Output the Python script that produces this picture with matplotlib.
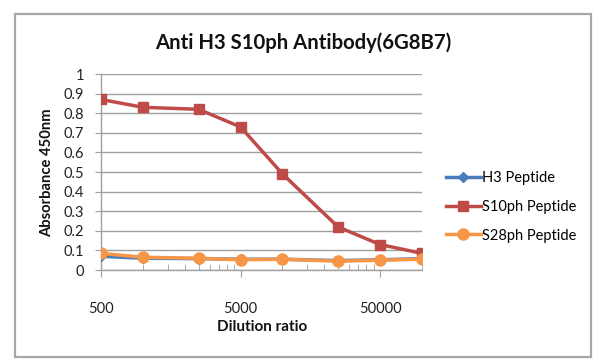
import numpy as np
import matplotlib
matplotlib.use("Agg")
import matplotlib.pyplot as plt
from matplotlib.ticker import FixedLocator, LogLocator, NullFormatter, FixedFormatter
from matplotlib.patches import Rectangle

dilution = [500, 1000, 2500, 5000, 10000, 25000, 50000, 100000]
h3 = [0.070, 0.060, 0.058, 0.055, 0.055, 0.048, 0.052, 0.058]
s10ph = [0.87, 0.83, 0.82, 0.73, 0.49, 0.22, 0.13, 0.085]
s28ph = [0.085, 0.065, 0.060, 0.052, 0.055, 0.045, 0.050, 0.055]
x_ticks = [500, 5000, 50000]
x_labels = ["500", "5000", "50000"]
y_ticks = [0, 0.1, 0.2, 0.3, 0.4, 0.5, 0.6, 0.7, 0.8, 0.9, 1]
y_labels = ["0", "0.1", "0.2", "0.3", "0.4", "0.5", "0.6", "0.7", "0.8", "0.9", "1"]

plt.rcParams['font.family'] = ['Lato', 'DejaVu Sans']

W, H = 600, 362
fig = plt.figure(figsize=(6, 3.62), dpi=100)
fig.patch.set_facecolor('white')
fig.patches.append(Rectangle((15 / W, 1 - 357 / H), 576 / W, 343 / H, transform=fig.transFigure,
                             fill=False, edgecolor='#A6A6A6', linewidth=1.6))

ax = fig.add_axes([101 / W, 1 - 270 / H, 321 / W, 196 / H])
ax.set_xscale('log')
ax.set_xlim(500, 100000)
ax.set_ylim(0, 1)

ax.plot(dilution, s10ph, color='#BE4B48', lw=2.5, marker='s', ms=7.5, label='S10ph Peptide', zorder=3)
ax.plot(dilution, h3, color='#4A7EBB', lw=2.5, marker='D', ms=5, label='H3 Peptide', zorder=4)
ax.plot(dilution, s28ph, color='#F79646', lw=2.5, marker='o', ms=8, label='S28ph Peptide', zorder=5)

ax.xaxis.set_major_locator(FixedLocator(x_ticks))
ax.xaxis.set_major_formatter(FixedFormatter(x_labels))
ax.xaxis.set_minor_locator(LogLocator(base=10, subs=np.arange(1, 5, 0.5)))
ax.xaxis.set_minor_formatter(NullFormatter())
ax.yaxis.set_major_locator(FixedLocator(y_ticks))
ax.yaxis.set_major_formatter(FixedFormatter(y_labels))

ax.grid(axis='y', color='#A0A0A0', lw=1.0)
ax.set_axisbelow(True)
for s in ['top', 'right']:
    ax.spines[s].set_visible(False)
for s in ['left', 'bottom']:
    ax.spines[s].set_color('#A0A0A0')
    ax.spines[s].set_linewidth(1.0)

ax.tick_params(axis='x', which='major', direction='out', length=5, color='#A0A0A0',
               labelsize=10.5, pad=18, labelcolor='#222222')
ax.tick_params(axis='x', which='minor', direction='in', length=4, color='#A0A0A0')
ax.tick_params(axis='y', which='major', direction='out', length=4, color='#A0A0A0',
               labelsize=10.5, pad=8, labelcolor='#222222')

fig.text(303 / W, 1 - 43 / H, 'Anti H3 S10ph Antibody(6G8B7)', ha='center', va='center',
         fontsize=14.6, fontweight='bold', color='#111111')
fig.text(47 / W, 1 - 173 / H, 'Absorbance 450nm', ha='center', va='center', rotation=90,
         fontsize=10.6, fontweight='bold', color='#111111')
fig.text(262 / W, 1 - 327 / H, 'Dilution ratio', ha='center', va='center',
         fontsize=11, fontweight='bold', color='#111111')

handles, labels = ax.get_legend_handles_labels()
order = [1, 0, 2]
leg = fig.legend([handles[i] for i in order], [labels[i] for i in order],
                 loc='center left', bbox_to_anchor=(440 / W, 1 - 207 / H),
                 frameon=False, fontsize=10.5, handlelength=2.4, handletextpad=0.05,
                 labelspacing=1.0, borderaxespad=0)

fig.savefig('out.png', dpi=100)
